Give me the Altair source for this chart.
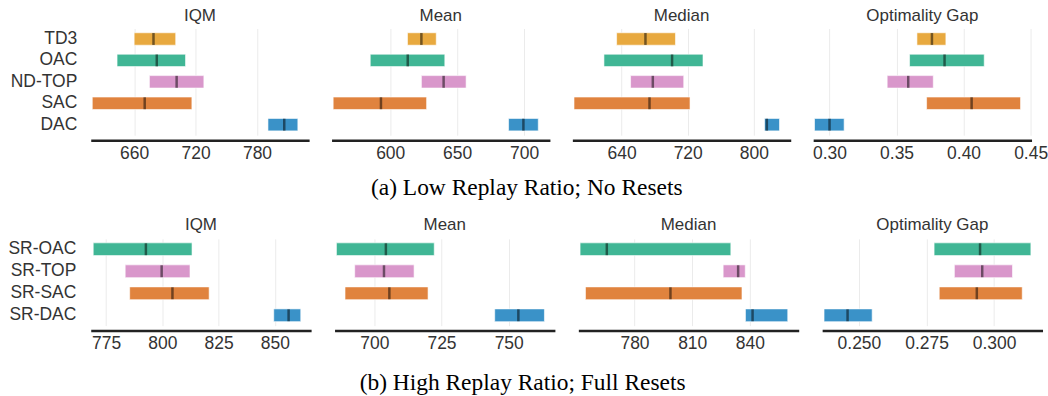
import altair as alt
import pandas as pd

# ---------------- data ----------------
top_algos = ["TD3", "OAC", "ND-TOP", "SAC", "DAC"]
top_colors = ["#E8A93F", "#40B695", "#D997CB", "#E0833E", "#3A92C8"]

top_iqm_lo = [660.0, 643.3, 674.9, 619.1, 790.7]
top_iqm_hi = [700.6, 710.2, 728.1, 716.4, 819.9]
top_iqm_med = [678.9, 682.1, 701.5, 670.3, 806.6]

top_mean_lo = [612.9, 585.1, 623.3, 557.4, 688.4]
top_mean_hi = [634.4, 640.8, 656.7, 627.2, 710.6]
top_mean_med = [623.3, 613.1, 639.9, 593.1, 699.5]

top_median_lo = [634.0, 618.7, 650.9, 582.5, 812.9]
top_median_hi = [705.2, 738.5, 715.2, 722.8, 831.0]
top_median_med = [668.9, 701.1, 677.8, 673.8, 815.7]

top_og_lo = [0.3652, 0.3597, 0.3430, 0.3724, 0.2888]
top_og_hi = [0.3868, 0.4154, 0.3774, 0.4425, 0.3109]
top_og_med = [0.3764, 0.3858, 0.3587, 0.4060, 0.3000]

bot_algos = ["SR-OAC", "SR-TOP", "SR-SAC", "SR-DAC"]
bot_colors = ["#40B695", "#D997CB", "#E0833E", "#3A92C8"]

bot_iqm_lo = [769.3, 783.5, 785.5, 849.5]
bot_iqm_hi = [813.2, 812.3, 820.8, 861.5]
bot_iqm_med = [792.7, 799.7, 804.5, 856.1]

bot_mean_lo = [685.9, 692.7, 689.1, 744.8]
bot_mean_hi = [722.3, 714.8, 720.0, 763.3]
bot_mean_med = [704.3, 703.6, 705.6, 753.6]

bot_median_lo = [751.7, 826.1, 754.5, 837.7]
bot_median_hi = [830.1, 837.6, 835.9, 859.7]
bot_median_med = [765.6, 833.9, 798.7, 841.4]

bot_og_lo = [0.2778, 0.2853, 0.2797, 0.2371]
bot_og_hi = [0.3136, 0.3068, 0.3104, 0.2549]
bot_og_med = [0.2948, 0.2956, 0.2936, 0.2458]

metric_titles = ["IQM", "Mean", "Median", "Optimality Gap"]

top_ticks = [[660, 720, 780], [600, 650, 700], [640, 720, 800], [0.30, 0.35, 0.40, 0.45]]
top_domains = [[617.6, 830.9], [556.2, 719.3], [580.5, 844.6], [0.2878, 0.4507]]
top_formats = ["d", "d", "d", ".2f"]

bot_ticks = [[775, 800, 825, 850], [700, 725, 750], [780, 810, 840], [0.25, 0.275, 0.30]]
bot_domains = [[768.2, 866.1], [685.2, 767.2], [750.8, 865.4], [0.2364, 0.3179]]
bot_formats = ["d", "d", "d", ".3f"]

caption_a = "(a) Low Replay Ratio; No Resets"
caption_b = "(b) High Replay Ratio; Full Resets"

all_algos = top_algos + bot_algos
all_colors = top_colors + bot_colors

SANS = "Liberation Sans"
TXT = "#333333"


def panel(algos, lo, hi, med, title, ticks, domain, fmt, first,
          width, height, pad_outer, label_pad, extent, title_off):
    df = pd.DataFrame({"algo": algos, "lo": lo, "hi": hi, "med": med})
    yaxis = alt.Axis(title=None, domain=False, ticks=False, grid=False,
                     labelFont=SANS, labelFontSize=17.5, labelColor=TXT,
                     labelPadding=label_pad, minExtent=extent,
                     maxExtent=extent) if first else None
    y = alt.Y("algo:N", sort=algos,
              scale=alt.Scale(paddingInner=0.42, paddingOuter=pad_outer),
              axis=yaxis)
    xscale = alt.Scale(domain=domain, nice=False, zero=False)
    xaxis = alt.Axis(title=None, values=ticks, format=fmt, ticks=False,
                     domainColor="#222222", domainWidth=2.5, offset=5,
                     labelFont=SANS, labelFontSize=17.5, labelColor=TXT,
                     labelPadding=4, grid=True, gridColor="#ebebeb",
                     gridWidth=1, labelFlush=False)
    bars = alt.Chart(df).mark_bar(
        stroke="white", strokeWidth=1, strokeOpacity=0.6, opacity=1
    ).encode(
        y=y,
        x=alt.X("lo:Q", scale=xscale, axis=xaxis),
        x2="hi:Q",
        color=alt.Color("algo:N",
                        scale=alt.Scale(domain=all_algos, range=all_colors),
                        legend=None),
    )
    med_tick = alt.Chart(df).mark_tick(
        color="black", opacity=0.5, thickness=2.5, size=12
    ).encode(
        y=alt.Y("algo:N", sort=algos),
        x=alt.X("med:Q"),
    )
    return alt.layer(bars, med_tick).properties(
        width=width, height=height,
        title=alt.TitleParams(title, font=SANS, fontSize=17,
                              fontWeight="normal", color=TXT, offset=title_off),
    )


top_data = [
    (top_iqm_lo, top_iqm_hi, top_iqm_med),
    (top_mean_lo, top_mean_hi, top_mean_med),
    (top_median_lo, top_median_hi, top_median_med),
    (top_og_lo, top_og_hi, top_og_med),
]
bot_data = [
    (bot_iqm_lo, bot_iqm_hi, bot_iqm_med),
    (bot_mean_lo, bot_mean_hi, bot_mean_med),
    (bot_median_lo, bot_median_hi, bot_median_med),
    (bot_og_lo, bot_og_hi, bot_og_med),
]

top_panels = [
    panel(top_algos, *top_data[i], metric_titles[i], top_ticks[i],
          top_domains[i], top_formats[i], i == 0, 219, 107, 0.2, 14, 85, 4)
    for i in range(4)
]
bot_panels = [
    panel(bot_algos, *bot_data[i], metric_titles[i], bot_ticks[i],
          bot_domains[i], bot_formats[i], i == 0, 221, 87, 0.18, 15, 88.3, 5)
    for i in range(4)
]

cap_style = dict(orient="bottom", font="Liberation Serif", fontSize=23.5,
                 fontWeight="normal", color="black", anchor="middle")

row_a = alt.hconcat(*top_panels, spacing=22.5, bounds="flush").properties(
    title=alt.TitleParams(caption_a, offset=14, **cap_style))
row_b = alt.hconcat(*bot_panels, spacing=23.5, bounds="flush").properties(
    title=alt.TitleParams(caption_b, offset=19, **cap_style))

chart = alt.vconcat(row_a, row_b, spacing=17).properties(
    padding={"left": 2, "top": 6, "right": 0, "bottom": 0},
    background="white",
).configure_view(strokeWidth=0)

chart.save("out.html", embed_options={"renderer": "svg", "actions": False})
